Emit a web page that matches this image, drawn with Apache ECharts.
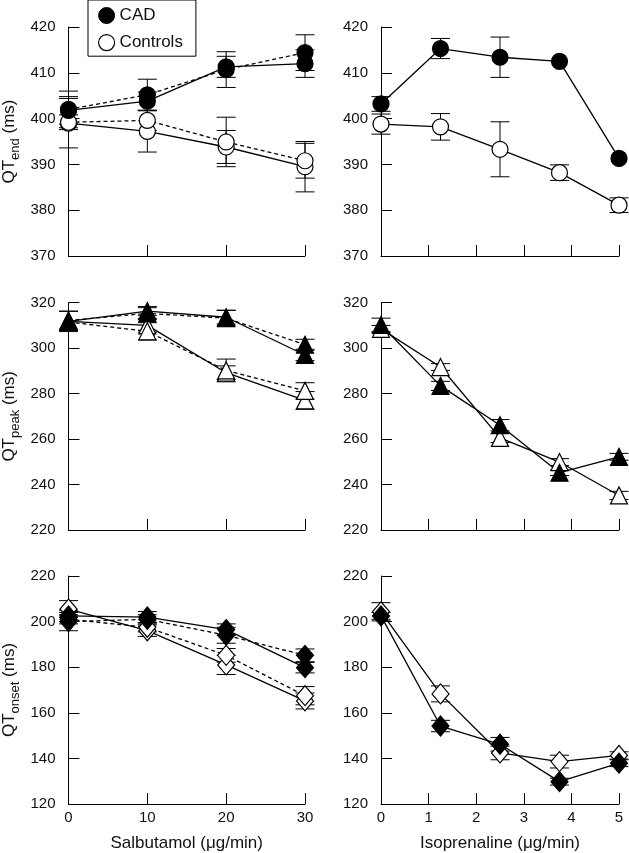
<!DOCTYPE html>
<html>
<head>
<meta charset="utf-8">
<script src="https://cdn.jsdelivr.net/npm/echarts@6/dist/echarts.min.js"></script>
<style>
html,body{margin:0;padding:0;background:#fff;}
#chart{width:629px;height:853px;}
</style>
</head>
<body>
<div id="chart"></div>
<script>
// ---------- data ----------
const salbX = [0, 10, 20, 30];
const isoX = [0, 1.25, 2.5, 3.75, 5];

// QTend – Salbutamol
const endSalbCadSolid = [401.8, 403.8, 411.3, 412.0];
const endSalbCadSolidErr = [3.0, 2.0, 2.3, 3.0];
const endSalbCadDash = [402.0, 405.2, 410.7, 414.4];
const endSalbCadDashErr = [4.0, 3.4, 3.9, 3.9];
const endSalbCtrlSolid = [399.0, 397.2, 393.8, 389.5];
const endSalbCtrlSolidErr = [5.4, 4.5, 3.6, 5.5];
const endSalbCtrlDash = [399.2, 399.6, 394.9, 390.8];
const endSalbCtrlDashErr = [1.6, 2.2, 5.4, 3.8];

// QTend – Isoprenaline
const endIsoCad = [403.2, 415.3, 413.4, 412.5, 391.3];
const endIsoCadErr = [1.6, 2.2, 4.4, 0, 0];
const endIsoCtrl = [398.8, 398.2, 393.3, 388.2, 381.1];
const endIsoCtrlErr = [2.2, 2.9, 6.0, 1.7, 1.6];

// QTpeak – Salbutamol
const peakSalbCadSolid = [311.8, 316.3, 313.6, 297.0];
const peakSalbCadSolidErr = [4.5, 2.0, 3.0, 2.5];
const peakSalbCadDash = [312.2, 315.3, 313.2, 301.5];
const peakSalbCadDashErr = [4.0, 2.5, 3.5, 2.4];
const peakSalbCtrlSolid = [311.8, 310.0, 289.2, 277.0];
const peakSalbCtrlSolidErr = [0, 3.0, 3.0, 3.9];
const peakSalbCtrlDash = [311.5, 307.4, 290.2, 281.2];
const peakSalbCtrlDashErr = [0, 3.8, 5.0, 3.6];

// QTpeak – Isoprenaline
const peakIsoCad = [310.2, 283.4, 266.1, 245.2, 252.2];
const peakIsoCadErr = [3.0, 2.0, 2.5, 1.2, 1.5];
const peakIsoCtrl = [308.5, 291.7, 260.5, 249.9, 235.2];
const peakIsoCtrlErr = [1.5, 1.5, 2.0, 1.5, 1.8];

// QTonset – Salbutamol
const onsetSalbCadSolid = [202.5, 202.0, 196.5, 179.8];
const onsetSalbCadSolidErr = [2.5, 2.4, 2.5, 2.3];
const onsetSalbCadDash = [200.0, 201.0, 194.0, 185.2];
const onsetSalbCadDashErr = [4.0, 2.0, 3.5, 2.8];
const onsetSalbCtrlSolid = [205.5, 196.0, 181.0, 165.2];
const onsetSalbCtrlSolidErr = [3.7, 2.5, 4.2, 3.5];
const onsetSalbCtrlDash = [201.0, 197.5, 185.2, 167.5];
const onsetSalbCtrlDashErr = [2.0, 2.0, 3.0, 4.0];

// QTonset – Isoprenaline
const onsetIsoCad = [202.5, 154.2, 146.2, 129.8, 137.9];
const onsetIsoCadErr = [1.5, 2.5, 3.0, 1.5, 1.5];
const onsetIsoCtrl = [204.3, 168.3, 142.4, 138.6, 141.3];
const onsetIsoCtrlErr = [4.0, 3.5, 3.0, 2.8, 1.6];

const yRanges = [[370, 420, 10], [220, 320, 20], [120, 220, 20]];
const yNames = ['end', 'peak', 'onset'];
const xTitles = ['Salbutamol (\u03bcg/min)', 'Isoprenaline (\u03bcg/min)'];

// ---------- layout ----------
const FONT = '"Liberation Sans", Arial, Helvetica, sans-serif';
const TXT = '#111';
const rowTop = [27, 302.7, 576];
const rowH = [229, 227.3, 229];
const colLeft = [67, 381];
const colW = 238;

const grids = [], xAxes = [], yAxes = [];
for (let r = 0; r < 3; r++) {
  for (let c = 0; c < 2; c++) {
    const gi = r * 2 + c;
    grids.push({left: colLeft[c], top: rowTop[r], width: colW, height: rowH[r], containLabel: false});
    xAxes.push({
      type: 'value', gridIndex: gi,
      min: 0, max: c === 0 ? 30 : 5, interval: c === 0 ? 10 : 1,
      axisLine: {show: true, onZero: false, lineStyle: {color: '#000', width: 1}},
      axisTick: {show: true, inside: true, length: 11, lineStyle: {color: '#000', width: 1}},
      axisLabel: {show: r === 2, margin: 6, fontSize: 15, fontFamily: FONT, color: TXT},
      splitLine: {show: false},
      name: r === 2 ? xTitles[c] : '',
      nameLocation: 'middle', nameGap: 31,
      nameTextStyle: {fontSize: 17, fontFamily: FONT, color: TXT}
    });
    yAxes.push({
      type: 'value', gridIndex: gi,
      min: yRanges[r][0], max: yRanges[r][1], interval: yRanges[r][2],
      axisLine: {show: true, onZero: false, lineStyle: {color: '#000', width: 1}},
      axisTick: {show: true, inside: true, length: 11, lineStyle: {color: '#000', width: 1}},
      axisLabel: {margin: 13, fontSize: 15, fontFamily: FONT, color: TXT},
      splitLine: {show: false},
      name: c === 0 ? '{m|QT}{s|' + yNames[r] + '}{m| (ms)}' : '',
      nameLocation: 'middle', nameGap: 47, nameRotate: 90,
      nameTextStyle: {
        fontFamily: FONT, color: TXT,
        rich: {
          m: {fontSize: 17, fontFamily: FONT, color: TXT, lineHeight: 24, verticalAlign: 'middle'},
          s: {fontSize: 13, fontFamily: FONT, color: TXT, lineHeight: 24, verticalAlign: 'bottom'}
        }
      }
    });
  }
}

const series = [];
function addErr(gi, xs, ys, es) {
  const data = [];
  xs.forEach((x, i) => { if (es[i] > 0) data.push([x, ys[i] - es[i], ys[i] + es[i]]); });
  series.push({
    type: 'custom', xAxisIndex: gi, yAxisIndex: gi, z: 1, silent: true,
    data: data, encode: {x: 0, y: [1, 2]},
    renderItem: function (params, api) {
      const x = api.value(0), lo = api.value(1), hi = api.value(2);
      const t = api.coord([x, hi]), b = api.coord([x, lo]);
      const hw = 9.5, st = {stroke: '#000', lineWidth: 1};
      return {type: 'group', children: [
        {type: 'line', shape: {x1: t[0], y1: t[1], x2: b[0], y2: b[1]}, style: st},
        {type: 'line', shape: {x1: t[0] - hw, y1: t[1], x2: t[0] + hw, y2: t[1]}, style: st},
        {type: 'line', shape: {x1: b[0] - hw, y1: b[1], x2: b[0] + hw, y2: b[1]}, style: st}
      ]};
    }
  });
}
function addLine(name, gi, xs, ys, symbol, size, filled, dashed) {
  series.push({
    name: name, type: 'line', xAxisIndex: gi, yAxisIndex: gi, z: 3,
    data: xs.map((x, i) => [x, ys[i]]),
    symbol: symbol, symbolSize: size, showSymbol: true, clip: false,
    lineStyle: {color: '#000', width: 1.3, type: dashed ? [4, 3] : 'solid'},
    itemStyle: {color: filled ? '#000' : '#fff', borderColor: '#000', borderWidth: 1.2, opacity: 1}
  });
}
function addGroup(name, gi, xs, ys, es, symbol, size, filled, dashed) {
  addErr(gi, xs, ys, es);
  addLine(name, gi, xs, ys, symbol, size, filled, dashed);
}

const CIRC = 16, TRI = 17, DIA = [17, 20];
// row 0
addGroup('Controls', 0, salbX, endSalbCtrlSolid, endSalbCtrlSolidErr, 'circle', CIRC, false, false);
addGroup('Controls', 0, salbX, endSalbCtrlDash, endSalbCtrlDashErr, 'circle', CIRC, false, true);
addGroup('CAD', 0, salbX, endSalbCadSolid, endSalbCadSolidErr, 'circle', CIRC, true, false);
addGroup('CAD', 0, salbX, endSalbCadDash, endSalbCadDashErr, 'circle', CIRC, true, true);
addGroup('Controls', 1, isoX, endIsoCtrl, endIsoCtrlErr, 'circle', CIRC, false, false);
addGroup('CAD', 1, isoX, endIsoCad, endIsoCadErr, 'circle', CIRC, true, false);
// row 1
addGroup('Controls', 2, salbX, peakSalbCtrlSolid, peakSalbCtrlSolidErr, 'triangle', TRI, false, false);
addGroup('Controls', 2, salbX, peakSalbCtrlDash, peakSalbCtrlDashErr, 'triangle', TRI, false, true);
addGroup('CAD', 2, salbX, peakSalbCadSolid, peakSalbCadSolidErr, 'triangle', TRI, true, false);
addGroup('CAD', 2, salbX, peakSalbCadDash, peakSalbCadDashErr, 'triangle', TRI, true, true);
addGroup('Controls', 3, isoX, peakIsoCtrl, peakIsoCtrlErr, 'triangle', TRI, false, false);
addGroup('CAD', 3, isoX, peakIsoCad, peakIsoCadErr, 'triangle', TRI, true, false);
// row 2
addGroup('Controls', 4, salbX, onsetSalbCtrlSolid, onsetSalbCtrlSolidErr, 'diamond', DIA, false, false);
addGroup('Controls', 4, salbX, onsetSalbCtrlDash, onsetSalbCtrlDashErr, 'diamond', DIA, false, true);
addGroup('CAD', 4, salbX, onsetSalbCadSolid, onsetSalbCadSolidErr, 'diamond', DIA, true, false);
addGroup('CAD', 4, salbX, onsetSalbCadDash, onsetSalbCadDashErr, 'diamond', DIA, true, true);
addGroup('Controls', 5, isoX, onsetIsoCtrl, onsetIsoCtrlErr, 'diamond', DIA, false, false);
addGroup('CAD', 5, isoX, onsetIsoCad, onsetIsoCadErr, 'diamond', DIA, true, false);

const chart = echarts.init(document.getElementById('chart'), null, {renderer: 'canvas'});
chart.setOption({
  animation: false,
  backgroundColor: '#fff',
  textStyle: {fontFamily: FONT},
  grid: grids, xAxis: xAxes, yAxis: yAxes,
  legend: {
    left: 88, top: 0, orient: 'vertical',
    padding: [7, 13, 5, 10], itemGap: 10, itemWidth: 16, itemHeight: 16,
    borderColor: '#000', borderWidth: 1, selectedMode: false,
    textStyle: {fontSize: 17, fontFamily: FONT, color: TXT},
    lineStyle: {opacity: 0},
    data: [
      {name: 'CAD', icon: 'circle', itemStyle: {color: '#000', borderColor: '#000', borderWidth: 1}},
      {name: 'Controls', icon: 'circle', itemStyle: {color: '#fff', borderColor: '#000', borderWidth: 1.2}}
    ]
  },
  series: series
});
</script>
</body>
</html>
